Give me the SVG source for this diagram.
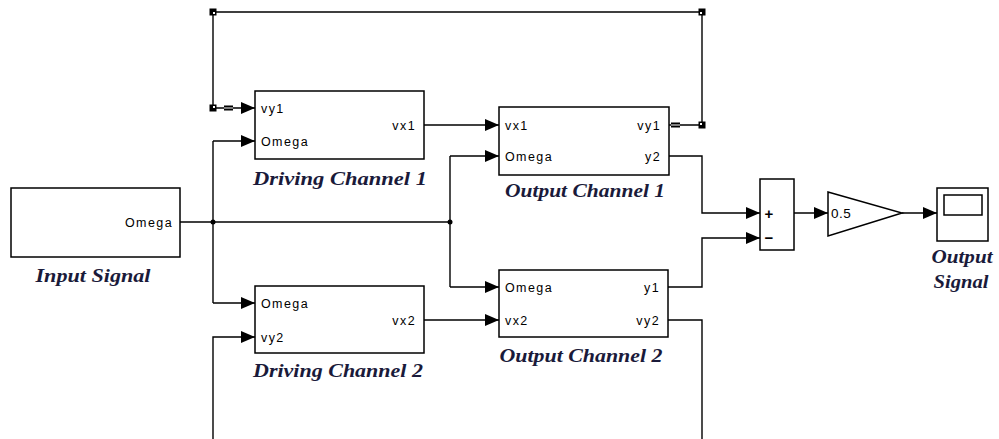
<svg xmlns="http://www.w3.org/2000/svg" width="999" height="439" viewBox="0 0 999 439">
<defs>
<style>
.blk{fill:#fff;stroke:#000;stroke-width:1.5}
.ln{fill:none;stroke:#000;stroke-width:1.4}
.port{font-family:"Liberation Sans",Arial,sans-serif;font-size:12.5px;letter-spacing:1.4px;fill:#000}
.lbl{font-family:"Liberation Serif","Times New Roman",serif;font-size:19px;font-weight:bold;font-style:italic;fill:#1a1a3a}
.hd{fill:#000}
</style>
<marker id="arr" viewBox="0 0 14 12" refX="14" refY="6" markerWidth="14" markerHeight="12" markerUnits="userSpaceOnUse" orient="auto">
<path d="M0,0 L14,6 L0,12 Z" fill="#000"/>
</marker>
</defs>
<rect width="999" height="439" fill="#fff"/>

<g id="connectors">
<path class="ln" d="M669,125 H702 V12 H213 V108"/>
<path class="ln" d="M213,108 H255" marker-end="url(#arr)"/>
<rect x="224" y="105.5" width="9" height="5" fill="#000"/><line x1="224" y1="108" x2="233" y2="108" stroke="#fff" stroke-width="1"/>
<rect x="671" y="122.5" width="9" height="5" fill="#000"/><line x1="671" y1="125" x2="680" y2="125" stroke="#fff" stroke-width="1"/>
<rect class="hd" x="209.5" y="8.5" width="7" height="7"/><rect x="213" y="12" width="2" height="2" fill="#fff"/>
<rect class="hd" x="698.5" y="8.5" width="7" height="7"/><rect x="700" y="12" width="2" height="2" fill="#fff"/>
<rect class="hd" x="209.5" y="104.5" width="7" height="7"/><rect x="213" y="106" width="2" height="2" fill="#fff"/>
<rect class="hd" x="698.5" y="121.5" width="7" height="7"/><rect x="700" y="123" width="2" height="2" fill="#fff"/>
<path class="ln" d="M424,125 H499" marker-end="url(#arr)"/>
<path class="ln" d="M180,222 H450"/>
<path class="ln" d="M213,141 V303"/>
<path class="ln" d="M213,141 H255" marker-end="url(#arr)"/>
<path class="ln" d="M213,303 H255" marker-end="url(#arr)"/>
<path class="ln" d="M450,156 V287"/>
<path class="ln" d="M450,156 H499" marker-end="url(#arr)"/>
<path class="ln" d="M450,287 H499" marker-end="url(#arr)"/>
<circle cx="213" cy="222" r="2.5" fill="#000"/>
<circle cx="450" cy="222" r="2.5" fill="#000"/>
<path class="ln" d="M669,156 H702 V213 H760" marker-end="url(#arr)"/>
<path class="ln" d="M668,287 H702 V238 H760" marker-end="url(#arr)"/>
<path class="ln" d="M424,320 H499" marker-end="url(#arr)"/>
<path class="ln" d="M668,320 H702 V439"/>
<path class="ln" d="M213,439 V337 H255" marker-end="url(#arr)"/>
<path class="ln" d="M794,213 H828" marker-end="url(#arr)"/>
<path class="ln" d="M902,213 H937" marker-end="url(#arr)"/>
</g>

<g id="input-signal">
<rect class="blk" x="11" y="188" width="169" height="69"/>
<text class="port" x="173" y="226.5" text-anchor="end">Omega</text>
<text class="lbl" x="93" y="282" text-anchor="middle" textLength="115" lengthAdjust="spacingAndGlyphs">Input Signal</text>
</g>

<g id="driving-channel-1">
<rect class="blk" x="255" y="91" width="169" height="68"/>
<text class="port" x="261" y="112.5">vy1</text>
<text class="port" x="261" y="145.5">Omega</text>
<text class="port" x="416" y="130" text-anchor="end">vx1</text>
<text class="lbl" x="340" y="185" text-anchor="middle" textLength="174" lengthAdjust="spacingAndGlyphs">Driving Channel 1</text>
</g>

<g id="driving-channel-2">
<rect class="blk" x="255" y="286" width="169" height="67"/>
<text class="port" x="261" y="307.5">Omega</text>
<text class="port" x="261" y="341.5">vy2</text>
<text class="port" x="416" y="324.5" text-anchor="end">vx2</text>
<text class="lbl" x="338" y="377" text-anchor="middle" textLength="170" lengthAdjust="spacingAndGlyphs">Driving Channel 2</text>
</g>

<g id="output-channel-1">
<rect class="blk" x="499" y="107" width="170" height="68"/>
<text class="port" x="505" y="129.5">vx1</text>
<text class="port" x="505" y="160.5">Omega</text>
<text class="port" x="661" y="129.5" text-anchor="end">vy1</text>
<text class="port" x="661" y="160.5" text-anchor="end">y2</text>
<text class="lbl" x="585" y="197" text-anchor="middle" textLength="160" lengthAdjust="spacingAndGlyphs">Output Channel 1</text>
</g>

<g id="output-channel-2">
<rect class="blk" x="499" y="270" width="169" height="67"/>
<text class="port" x="505" y="291.5">Omega</text>
<text class="port" x="505" y="324.5">vx2</text>
<text class="port" x="660" y="291.5" text-anchor="end">y1</text>
<text class="port" x="660" y="324.5" text-anchor="end">vy2</text>
<text class="lbl" x="581" y="362" text-anchor="middle" textLength="163" lengthAdjust="spacingAndGlyphs">Output Channel 2</text>
</g>

<g id="sum">
<rect class="blk" x="760" y="179" width="34" height="71"/>
<text x="769" y="218.5" text-anchor="middle" style="font-family:'Liberation Sans',Arial,sans-serif;font-size:15px;font-weight:bold">+</text>
<text x="769" y="243" text-anchor="middle" style="font-family:'Liberation Sans',Arial,sans-serif;font-size:15px;font-weight:bold">−</text>
</g>

<g id="gain">
<polygon class="blk" points="828,192 902,213 828,236"/>
<text class="port" x="831" y="218" style="letter-spacing:0.5px;font-size:13.5px">0.5</text>
</g>

<g id="output-signal">
<rect class="blk" x="937" y="188" width="51" height="53"/>
<rect class="blk" x="944" y="195" width="38" height="20"/>
<text class="lbl" x="962" y="263" text-anchor="middle" textLength="61" lengthAdjust="spacingAndGlyphs">Output</text>
<text class="lbl" x="961" y="288" text-anchor="middle" textLength="55" lengthAdjust="spacingAndGlyphs">Signal</text>
</g>
</svg>
